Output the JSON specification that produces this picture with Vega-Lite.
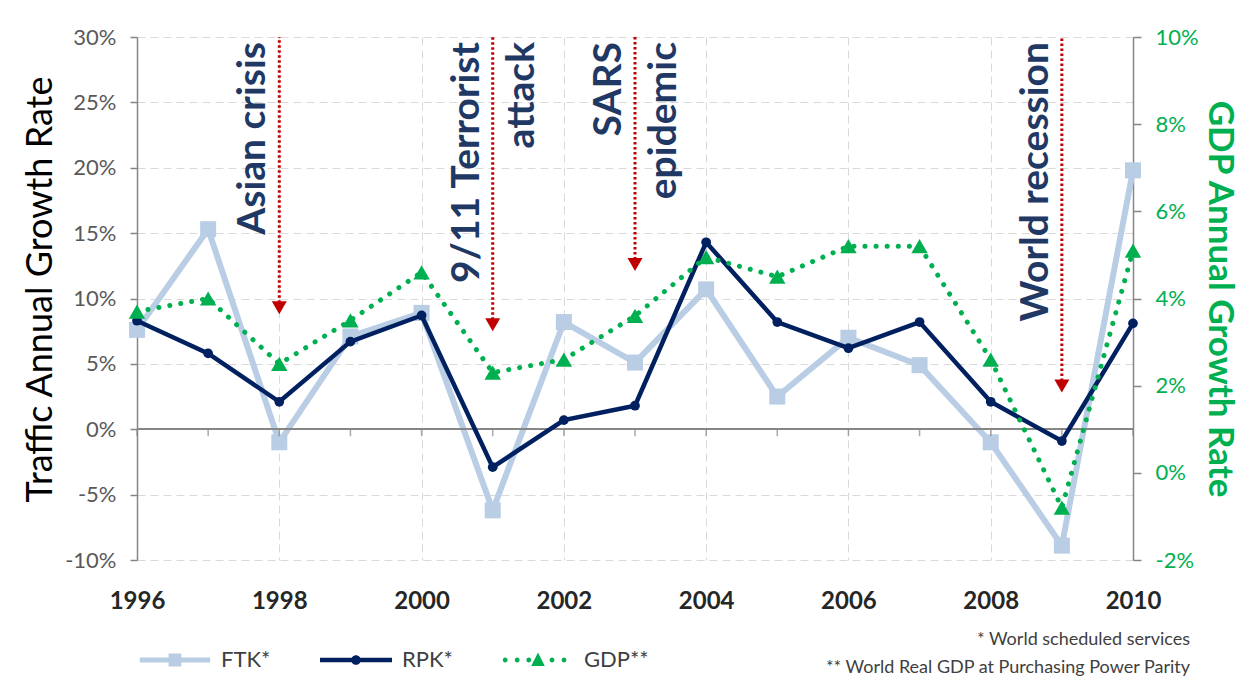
{
  "$schema": "https://vega.github.io/schema/vega-lite/v6.json",
  "width": 996,
  "height": 523,
  "autosize": {"type": "none"},
  "padding": {"left": 137, "top": 37, "right": 120, "bottom": 125},
  "background": "#ffffff",
  "config": {
    "font": "Lato",
    "view": {"stroke": null},
    "axis": {
      "gridColor": "#d9d9d9",
      "gridDash": [8, 5],
      "gridWidth": 1,
      "domainColor": "#868686",
      "domainWidth": 1.5,
      "tickColor": "#868686",
      "tickWidth": 1.5
    }
  },
  "title": {
    "text": ["* World scheduled services", "** World Real GDP at Purchasing Power Parity"],
    "orient": "bottom",
    "anchor": "end",
    "align": "right",
    "frame": "group",
    "dx": 57,
    "offset": -67,
    "fontSize": 18,
    "fontWeight": "normal",
    "color": "#404040",
    "lineHeight": 28
  },
  "datasets": {
    "series": [
      {"year": 1996, "FTK": 7.6, "RPK": 8.3, "GDP": 3.7},
      {"year": 1997, "FTK": 15.3, "RPK": 5.8, "GDP": 4.0},
      {"year": 1998, "FTK": -1.0, "RPK": 2.1, "GDP": 2.5},
      {"year": 1999, "FTK": 7.1, "RPK": 6.7, "GDP": 3.5},
      {"year": 2000, "FTK": 8.9, "RPK": 8.7, "GDP": 4.6},
      {"year": 2001, "FTK": -6.2, "RPK": -2.9, "GDP": 2.3},
      {"year": 2002, "FTK": 8.2, "RPK": 0.7, "GDP": 2.6},
      {"year": 2003, "FTK": 5.1, "RPK": 1.8, "GDP": 3.6},
      {"year": 2004, "FTK": 10.7, "RPK": 14.3, "GDP": 4.95},
      {"year": 2005, "FTK": 2.5, "RPK": 8.2, "GDP": 4.5},
      {"year": 2006, "FTK": 7.0, "RPK": 6.2, "GDP": 5.2},
      {"year": 2007, "FTK": 4.9, "RPK": 8.2, "GDP": 5.2},
      {"year": 2008, "FTK": -1.0, "RPK": 2.1, "GDP": 2.6},
      {"year": 2009, "FTK": -8.9, "RPK": -0.9, "GDP": -0.8},
      {"year": 2010, "FTK": 19.8, "RPK": 8.1, "GDP": 5.1}
    ],
    "events": [
      {"year": 1998, "tip": 9.3, "label": ["Asian crisis"]},
      {"year": 2001, "tip": 8.0, "label": ["9/11 Terrorist", "attack"]},
      {"year": 2003, "tip": 12.6, "label": ["SARS", "epidemic"]},
      {"year": 2009, "tip": 3.3, "label": ["World recession"]}
    ]
  },
  "layer": [
    {
      "layer": [
        {
          "data": {"name": "series"},
          "mark": {"type": "line", "strokeWidth": 6},
          "encoding": {
            "x": {
              "field": "year",
              "type": "quantitative",
              "scale": {"domain": [1996, 2010], "nice": false, "zero": false},
              "axis": {
                "values": [1996, 1998, 2000, 2002, 2004, 2006, 2008, 2010],
                "format": "d",
                "domain": false,
                "ticks": false,
                "tickSize": 0,
                "labelPadding": 29,
                "labelFontSize": 24,
                "labelFontWeight": "bold",
                "labelColor": "#262626",
                "labelFlush": false,
                "grid": true,
                "title": null
              }
            },
            "y": {
              "field": "FTK",
              "type": "quantitative",
              "scale": {"domain": [-10, 30], "nice": false, "zero": false},
              "axis": {
                "values": [-10, -5, 0, 5, 10, 15, 20, 25, 30],
                "labelExpr": "datum.value + '%'",
                "tickSize": 7,
                "labelPadding": 14,
                "labelFontSize": 22,
                "labelColor": "#595959",
                "title": "Traffic Annual Growth Rate",
                "titleFontSize": 36,
                "titleFontWeight": "normal",
                "titleColor": "#000000",
                "titlePadding": 5,
                "titleY": 252,
                "grid": true
              }
            },
            "color": {
              "datum": "FTK*",
              "type": "nominal",
              "scale": {"domain": ["FTK*", "RPK*", "GDP**"], "range": ["#b9cde5", "#002060", "#00b050"]},
              "legend": {
                "title": null,
                "orient": "bottom",
                "direction": "horizontal",
                "symbolSize": 256,
                "labelFontSize": 22,
                "labelColor": "#404040",
                "labelOffset": 35,
                "columnPadding": 49,
                "padding": 27,
                "offset": 9,
                "encode": {
                  "symbols": {
                    "update": {
                      "shape": {"signal": "datum.value === 'FTK*' ? 'M-4.4,-0.32H4.4V0.32H-4.4Z M-0.8,-0.8H0.8V0.8H-0.8Z' : datum.value === 'RPK*' ? 'M-4.5,-0.28H4.5V0.28H-4.5Z M-0.6,0A0.6,0.6 0 1,1 0.6,0A0.6,0.6 0 1,1 -0.6,0Z' : 'M-4.4,0a0.3,0.3 0 1,1 0.6,0a0.3,0.3 0 1,1 -0.6,0Z M-2.9,0a0.3,0.3 0 1,1 0.6,0a0.3,0.3 0 1,1 -0.6,0Z M-1.45,0a0.3,0.3 0 1,1 0.6,0a0.3,0.3 0 1,1 -0.6,0Z M1.45,0a0.3,0.3 0 1,1 0.6,0a0.3,0.3 0 1,1 -0.6,0Z M2.95,0a0.3,0.3 0 1,1 0.6,0a0.3,0.3 0 1,1 -0.6,0Z M0,-0.95L0.85,0.75H-0.85Z'"},
                      "fill": {"signal": "scale('color', datum.value)"},
                      "stroke": {"value": "transparent"},
                      "strokeWidth": {"value": 0},
                      "opacity": {"value": 1},
                      "fillOpacity": {"value": 1}
                    }
                  }
                }
              }
            }
          }
        },
        {
          "data": {"name": "series"},
          "mark": {"type": "point", "shape": "square", "size": 256, "filled": true, "opacity": 1, "color": "#b9cde5"},
          "encoding": {
            "x": {"field": "year", "type": "quantitative"},
            "y": {"field": "FTK", "type": "quantitative"}
          }
        },
        {
          "data": {"name": "series"},
          "mark": {"type": "rule", "color": "#868686", "strokeWidth": 1.5},
          "encoding": {"y": {"datum": 0, "type": "quantitative"}}
        },
        {
          "data": {"name": "series"},
          "mark": {"type": "tick", "orient": "vertical", "color": "#868686", "thickness": 1.5, "size": 7, "yOffset": 3.5},
          "encoding": {
            "x": {"field": "year", "type": "quantitative"},
            "y": {"datum": 0, "type": "quantitative"}
          }
        },
        {
          "data": {"name": "series"},
          "mark": {"type": "line", "strokeWidth": 4.5},
          "encoding": {
            "x": {"field": "year", "type": "quantitative"},
            "y": {"field": "RPK", "type": "quantitative"},
            "color": {"datum": "RPK*", "type": "nominal"}
          }
        },
        {
          "data": {"name": "series"},
          "mark": {"type": "point", "shape": "circle", "size": 95, "filled": true, "opacity": 1, "color": "#002060"},
          "encoding": {
            "x": {"field": "year", "type": "quantitative"},
            "y": {"field": "RPK", "type": "quantitative"}
          }
        },
        {
          "data": {"name": "events"},
          "mark": {"type": "rule", "color": "#c00000", "strokeWidth": 3, "strokeDash": [2.5, 2.5]},
          "encoding": {
            "x": {"field": "year", "type": "quantitative"},
            "y": {"field": "tip", "type": "quantitative"},
            "y2": {"datum": 30}
          }
        },
        {
          "data": {"name": "events"},
          "mark": {"type": "point", "shape": "triangle-down", "size": 225, "filled": true, "opacity": 1, "color": "#c00000"},
          "encoding": {
            "x": {"field": "year", "type": "quantitative"},
            "y": {"field": "tip", "type": "quantitative"}
          }
        },
        {
          "data": {"name": "events"},
          "mark": {"type": "text", "angle": 270, "align": "right", "baseline": "middle", "lineHeight": 55, "fontSize": 39, "fontWeight": "bold", "color": "#1f3864", "dx": -5, "dy": -26},
          "encoding": {
            "x": {"field": "year", "type": "quantitative"},
            "y": {"datum": 30, "type": "quantitative"},
            "text": {"field": "label"}
          }
        }
      ]
    },
    {
      "layer": [
        {
          "data": {"name": "series"},
          "mark": {"type": "line", "strokeWidth": 5, "strokeDash": [0.1, 11], "strokeCap": "round"},
          "encoding": {
            "x": {"field": "year", "type": "quantitative"},
            "y": {
              "field": "GDP",
              "type": "quantitative",
              "scale": {"domain": [-2, 10], "nice": false, "zero": false},
              "axis": {
                "orient": "right",
                "values": [-2, 0, 2, 4, 6, 8, 10],
                "labelExpr": "datum.value + '%'",
                "tickSize": 8,
                "labelPadding": 14,
                "labelFontSize": 22,
                "labelColor": "#00b050",
                "title": "GDP Annual Growth Rate",
                "titleFontSize": 35,
                "titleFontWeight": "bold",
                "titleColor": "#00b050",
                "titlePadding": 3,
                "grid": false
              }
            },
            "color": {"datum": "GDP**", "type": "nominal"}
          }
        },
        {
          "data": {"name": "series"},
          "mark": {"type": "point", "shape": "triangle-up", "size": 270, "filled": true, "opacity": 1, "color": "#00b050"},
          "encoding": {
            "x": {"field": "year", "type": "quantitative"},
            "y": {"field": "GDP", "type": "quantitative"}
          }
        }
      ]
    }
  ],
  "resolve": {"scale": {"y": "independent"}}
}
